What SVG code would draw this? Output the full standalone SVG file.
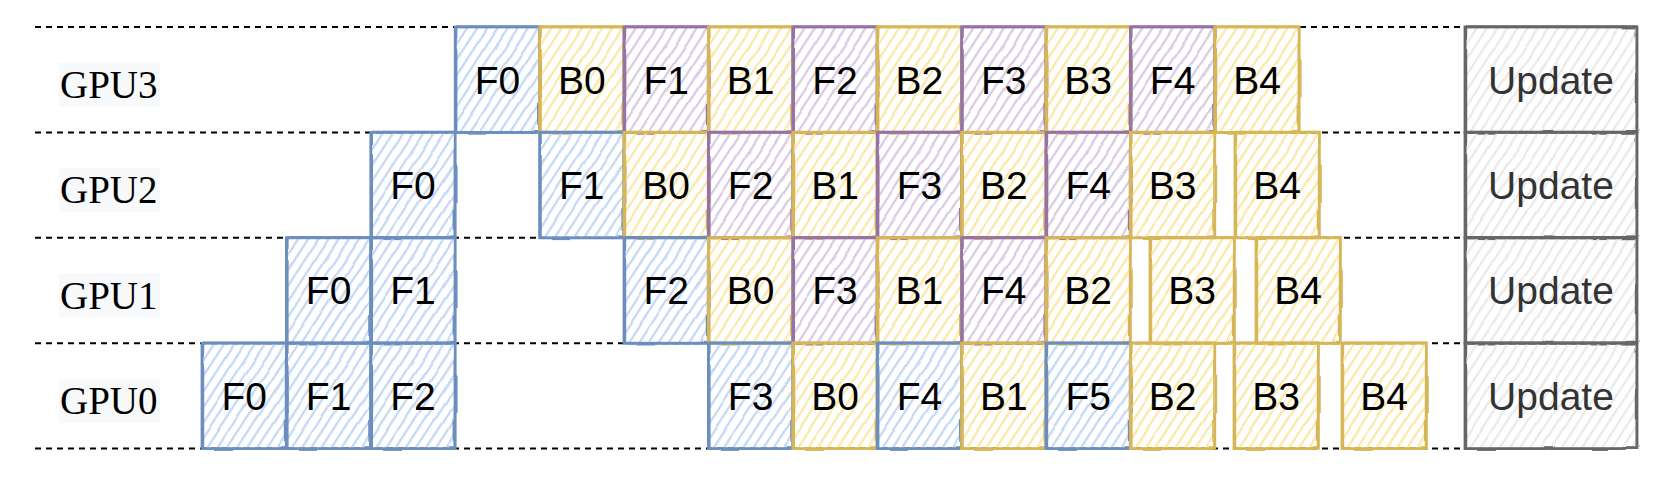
<svg xmlns="http://www.w3.org/2000/svg" width="1666" height="478" viewBox="0 0 1666 478">
<defs>
<pattern id="hb" patternUnits="userSpaceOnUse" width="8.5" height="8.5" patternTransform="rotate(33)"><line x1="2" y1="0" x2="2" y2="8.5" stroke="#c3d8f5" stroke-width="2.3"/></pattern>
<pattern id="hy" patternUnits="userSpaceOnUse" width="8.5" height="8.5" patternTransform="rotate(33)"><line x1="2" y1="0" x2="2" y2="8.5" stroke="#fbe7a8" stroke-width="2.3"/></pattern>
<pattern id="hp" patternUnits="userSpaceOnUse" width="8.5" height="8.5" patternTransform="rotate(33)"><line x1="2" y1="0" x2="2" y2="8.5" stroke="#d9cae3" stroke-width="2.3"/></pattern>
<pattern id="hg" patternUnits="userSpaceOnUse" width="8.5" height="8.5" patternTransform="rotate(33)"><line x1="2" y1="0" x2="2" y2="8.5" stroke="#e9e9e9" stroke-width="2.3"/></pattern>
<filter id="rough" x="-5%" y="-5%" width="110%" height="110%"><feTurbulence type="fractalNoise" baseFrequency="0.015" numOctaves="2" seed="3"/><feDisplacementMap in="SourceGraphic" scale="3" xChannelSelector="R" yChannelSelector="G"/></filter>
<filter id="rough2" x="-5%" y="-5%" width="110%" height="110%"><feTurbulence type="fractalNoise" baseFrequency="0.02" numOctaves="2" seed="11"/><feDisplacementMap in="SourceGraphic" scale="3" xChannelSelector="R" yChannelSelector="G"/></filter>
</defs>
<style>
.lane line{stroke:#000;stroke-width:2;stroke-dasharray:6 5;}
.lbl rect{fill:#f8f9fa;}
.lbl text{font-family:"Liberation Serif","Times New Roman",serif;font-size:39px;fill:#000;}
.node .box{stroke-width:2.8;filter:url(#rough);}
.node .sk{fill:none;stroke-width:1.4;filter:url(#rough2);}
.node text{font-family:"Liberation Sans",Arial,Helvetica,sans-serif;font-size:39px;text-anchor:middle;fill:#000;}
.blue .box{fill:url(#hb);stroke:#6c8ebf;} .blue .sk{stroke:#6c8ebf;}
.yel .box{fill:url(#hy);stroke:#d6b656;} .yel .sk{stroke:#d6b656;}
.pur .box{fill:url(#hp);stroke:#9673a6;} .pur .sk{stroke:#9673a6;}
.gry .box{fill:url(#hg);stroke:#666666;} .gry .sk{stroke:#666666;}
.gry text{fill:#333333;}
</style>
<g id="lanes" class="lane">
<line x1="35" y1="27" x2="1465" y2="27"/>
<line x1="35" y1="132.4" x2="1465" y2="132.4"/>
<line x1="35" y1="237.8" x2="1465" y2="237.8"/>
<line x1="35" y1="343.2" x2="1465" y2="343.2"/>
<line x1="35" y1="448.6" x2="1465" y2="448.6"/>
</g>
<g id="label-gpu3" class="lbl"><rect x="59" y="62.7" width="101" height="44"/><text x="60" y="97.7">GPU3</text></g>
<g id="label-gpu2" class="lbl"><rect x="59" y="168.1" width="101" height="44"/><text x="60" y="203.1">GPU2</text></g>
<g id="label-gpu1" class="lbl"><rect x="59" y="273.5" width="101" height="44"/><text x="60" y="308.5">GPU1</text></g>
<g id="label-gpu0" class="lbl"><rect x="59" y="378.9" width="101" height="44"/><text x="60" y="413.9">GPU0</text></g>

<!-- GPU3 -->
<g id="gpu3-f0" class="node blue" transform="translate(455.2,27)"><rect class="box" width="84.4" height="105.4"/><rect class="sk" x="1.5" y="-1" width="82" height="107"/><text x="42.2" y="66.7">F0</text></g>
<g id="gpu3-b0" class="node yel" transform="translate(539.6,27)"><rect class="box" width="84.4" height="105.4"/><rect class="sk" x="1.5" y="-1" width="82" height="107"/><text x="42.2" y="66.7">B0</text></g>
<g id="gpu3-f1" class="node pur" transform="translate(624,27)"><rect class="box" width="84.4" height="105.4"/><rect class="sk" x="1.5" y="-1" width="82" height="107"/><text x="42.2" y="66.7">F1</text></g>
<g id="gpu3-b1" class="node yel" transform="translate(708.4,27)"><rect class="box" width="84.4" height="105.4"/><rect class="sk" x="1.5" y="-1" width="82" height="107"/><text x="42.2" y="66.7">B1</text></g>
<g id="gpu3-f2" class="node pur" transform="translate(792.8,27)"><rect class="box" width="84.4" height="105.4"/><rect class="sk" x="1.5" y="-1" width="82" height="107"/><text x="42.2" y="66.7">F2</text></g>
<g id="gpu3-b2" class="node yel" transform="translate(877.2,27)"><rect class="box" width="84.4" height="105.4"/><rect class="sk" x="1.5" y="-1" width="82" height="107"/><text x="42.2" y="66.7">B2</text></g>
<g id="gpu3-f3" class="node pur" transform="translate(961.6,27)"><rect class="box" width="84.4" height="105.4"/><rect class="sk" x="1.5" y="-1" width="82" height="107"/><text x="42.2" y="66.7">F3</text></g>
<g id="gpu3-b3" class="node yel" transform="translate(1046,27)"><rect class="box" width="84.4" height="105.4"/><rect class="sk" x="1.5" y="-1" width="82" height="107"/><text x="42.2" y="66.7">B3</text></g>
<g id="gpu3-f4" class="node pur" transform="translate(1130.4,27)"><rect class="box" width="84.4" height="105.4"/><rect class="sk" x="1.5" y="-1" width="82" height="107"/><text x="42.2" y="66.7">F4</text></g>
<g id="gpu3-b4" class="node yel" transform="translate(1214.8,27)"><rect class="box" width="84.4" height="105.4"/><rect class="sk" x="1.5" y="-1" width="82" height="107"/><text x="42.2" y="66.7">B4</text></g>
<g id="gpu3-update" class="node gry" transform="translate(1465,27)"><rect class="box" width="172" height="105.4"/><rect class="sk" x="1.5" y="-1" width="170" height="107"/><text x="86" y="66.7">Update</text></g>

<!-- GPU2 -->
<g id="gpu2-f0" class="node blue" transform="translate(370.8,132.4)"><rect class="box" width="84.4" height="105.4"/><rect class="sk" x="1.5" y="-1" width="82" height="107"/><text x="42.2" y="66.7">F0</text></g>
<g id="gpu2-f1" class="node blue" transform="translate(539.6,132.4)"><rect class="box" width="84.4" height="105.4"/><rect class="sk" x="1.5" y="-1" width="82" height="107"/><text x="42.2" y="66.7">F1</text></g>
<g id="gpu2-b0" class="node yel" transform="translate(624,132.4)"><rect class="box" width="84.4" height="105.4"/><rect class="sk" x="1.5" y="-1" width="82" height="107"/><text x="42.2" y="66.7">B0</text></g>
<g id="gpu2-f2" class="node pur" transform="translate(708.4,132.4)"><rect class="box" width="84.4" height="105.4"/><rect class="sk" x="1.5" y="-1" width="82" height="107"/><text x="42.2" y="66.7">F2</text></g>
<g id="gpu2-b1" class="node yel" transform="translate(792.8,132.4)"><rect class="box" width="84.4" height="105.4"/><rect class="sk" x="1.5" y="-1" width="82" height="107"/><text x="42.2" y="66.7">B1</text></g>
<g id="gpu2-f3" class="node pur" transform="translate(877.2,132.4)"><rect class="box" width="84.4" height="105.4"/><rect class="sk" x="1.5" y="-1" width="82" height="107"/><text x="42.2" y="66.7">F3</text></g>
<g id="gpu2-b2" class="node yel" transform="translate(961.6,132.4)"><rect class="box" width="84.4" height="105.4"/><rect class="sk" x="1.5" y="-1" width="82" height="107"/><text x="42.2" y="66.7">B2</text></g>
<g id="gpu2-f4" class="node pur" transform="translate(1046,132.4)"><rect class="box" width="84.4" height="105.4"/><rect class="sk" x="1.5" y="-1" width="82" height="107"/><text x="42.2" y="66.7">F4</text></g>
<g id="gpu2-b3" class="node yel" transform="translate(1130.4,132.4)"><rect class="box" width="84.4" height="105.4"/><rect class="sk" x="1.5" y="-1" width="82" height="107"/><text x="42.2" y="66.7">B3</text></g>
<g id="gpu2-b4" class="node yel" transform="translate(1235,132.4)"><rect class="box" width="84.4" height="105.4"/><rect class="sk" x="1.5" y="-1" width="82" height="107"/><text x="42.2" y="66.7">B4</text></g>
<g id="gpu2-update" class="node gry" transform="translate(1465,132.4)"><rect class="box" width="172" height="105.4"/><rect class="sk" x="1.5" y="-1" width="170" height="107"/><text x="86" y="66.7">Update</text></g>

<!-- GPU1 -->
<g id="gpu1-f0" class="node blue" transform="translate(286.4,237.8)"><rect class="box" width="84.4" height="105.4"/><rect class="sk" x="1.5" y="-1" width="82" height="107"/><text x="42.2" y="66.7">F0</text></g>
<g id="gpu1-f1" class="node blue" transform="translate(370.8,237.8)"><rect class="box" width="84.4" height="105.4"/><rect class="sk" x="1.5" y="-1" width="82" height="107"/><text x="42.2" y="66.7">F1</text></g>
<g id="gpu1-f2" class="node blue" transform="translate(624,237.8)"><rect class="box" width="84.4" height="105.4"/><rect class="sk" x="1.5" y="-1" width="82" height="107"/><text x="42.2" y="66.7">F2</text></g>
<g id="gpu1-b0" class="node yel" transform="translate(708.4,237.8)"><rect class="box" width="84.4" height="105.4"/><rect class="sk" x="1.5" y="-1" width="82" height="107"/><text x="42.2" y="66.7">B0</text></g>
<g id="gpu1-f3" class="node pur" transform="translate(792.8,237.8)"><rect class="box" width="84.4" height="105.4"/><rect class="sk" x="1.5" y="-1" width="82" height="107"/><text x="42.2" y="66.7">F3</text></g>
<g id="gpu1-b1" class="node yel" transform="translate(877.2,237.8)"><rect class="box" width="84.4" height="105.4"/><rect class="sk" x="1.5" y="-1" width="82" height="107"/><text x="42.2" y="66.7">B1</text></g>
<g id="gpu1-f4" class="node pur" transform="translate(961.6,237.8)"><rect class="box" width="84.4" height="105.4"/><rect class="sk" x="1.5" y="-1" width="82" height="107"/><text x="42.2" y="66.7">F4</text></g>
<g id="gpu1-b2" class="node yel" transform="translate(1046,237.8)"><rect class="box" width="84.4" height="105.4"/><rect class="sk" x="1.5" y="-1" width="82" height="107"/><text x="42.2" y="66.7">B2</text></g>
<g id="gpu1-b3" class="node yel" transform="translate(1150,237.8)"><rect class="box" width="84.4" height="105.4"/><rect class="sk" x="1.5" y="-1" width="82" height="107"/><text x="42.2" y="66.7">B3</text></g>
<g id="gpu1-b4" class="node yel" transform="translate(1256,237.8)"><rect class="box" width="84.4" height="105.4"/><rect class="sk" x="1.5" y="-1" width="82" height="107"/><text x="42.2" y="66.7">B4</text></g>
<g id="gpu1-update" class="node gry" transform="translate(1465,237.8)"><rect class="box" width="172" height="105.4"/><rect class="sk" x="1.5" y="-1" width="170" height="107"/><text x="86" y="66.7">Update</text></g>

<!-- GPU0 -->
<g id="gpu0-f0" class="node blue" transform="translate(202,343.2)"><rect class="box" width="84.4" height="105.4"/><rect class="sk" x="1.5" y="-1" width="82" height="107"/><text x="42.2" y="66.7">F0</text></g>
<g id="gpu0-f1" class="node blue" transform="translate(286.4,343.2)"><rect class="box" width="84.4" height="105.4"/><rect class="sk" x="1.5" y="-1" width="82" height="107"/><text x="42.2" y="66.7">F1</text></g>
<g id="gpu0-f2" class="node blue" transform="translate(370.8,343.2)"><rect class="box" width="84.4" height="105.4"/><rect class="sk" x="1.5" y="-1" width="82" height="107"/><text x="42.2" y="66.7">F2</text></g>
<g id="gpu0-f3" class="node blue" transform="translate(708.4,343.2)"><rect class="box" width="84.4" height="105.4"/><rect class="sk" x="1.5" y="-1" width="82" height="107"/><text x="42.2" y="66.7">F3</text></g>
<g id="gpu0-b0" class="node yel" transform="translate(792.8,343.2)"><rect class="box" width="84.4" height="105.4"/><rect class="sk" x="1.5" y="-1" width="82" height="107"/><text x="42.2" y="66.7">B0</text></g>
<g id="gpu0-f4" class="node blue" transform="translate(877.2,343.2)"><rect class="box" width="84.4" height="105.4"/><rect class="sk" x="1.5" y="-1" width="82" height="107"/><text x="42.2" y="66.7">F4</text></g>
<g id="gpu0-b1" class="node yel" transform="translate(961.6,343.2)"><rect class="box" width="84.4" height="105.4"/><rect class="sk" x="1.5" y="-1" width="82" height="107"/><text x="42.2" y="66.7">B1</text></g>
<g id="gpu0-f5" class="node blue" transform="translate(1046,343.2)"><rect class="box" width="84.4" height="105.4"/><rect class="sk" x="1.5" y="-1" width="82" height="107"/><text x="42.2" y="66.7">F5</text></g>
<g id="gpu0-b2" class="node yel" transform="translate(1130.4,343.2)"><rect class="box" width="84.4" height="105.4"/><rect class="sk" x="1.5" y="-1" width="82" height="107"/><text x="42.2" y="66.7">B2</text></g>
<g id="gpu0-b3" class="node yel" transform="translate(1234,343.2)"><rect class="box" width="84.4" height="105.4"/><rect class="sk" x="1.5" y="-1" width="82" height="107"/><text x="42.2" y="66.7">B3</text></g>
<g id="gpu0-b4" class="node yel" transform="translate(1342,343.2)"><rect class="box" width="84.4" height="105.4"/><rect class="sk" x="1.5" y="-1" width="82" height="107"/><text x="42.2" y="66.7">B4</text></g>
<g id="gpu0-update" class="node gry" transform="translate(1465,343.2)"><rect class="box" width="172" height="105.4"/><rect class="sk" x="1.5" y="-1" width="170" height="107"/><text x="86" y="66.7">Update</text></g>
</svg>
